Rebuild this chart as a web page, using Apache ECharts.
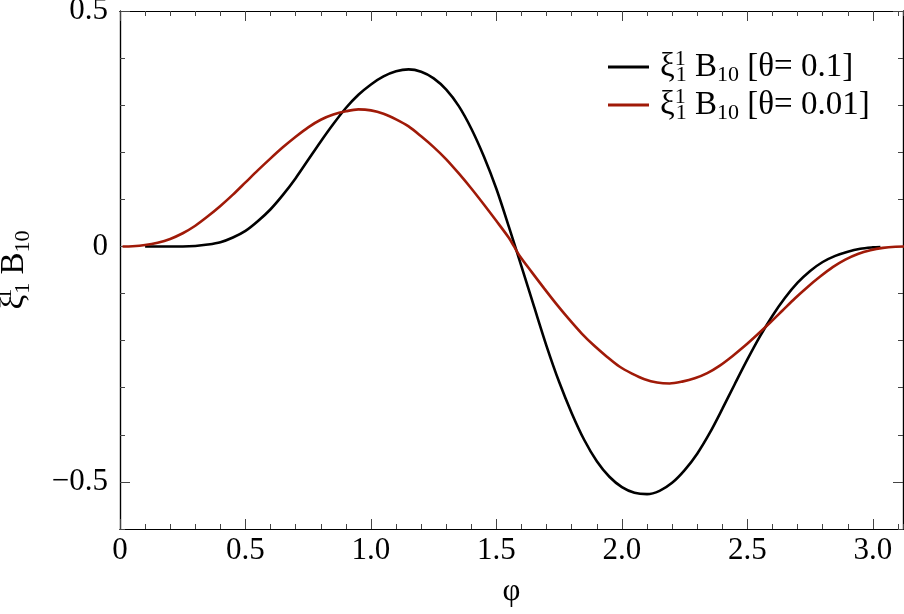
<!DOCTYPE html>
<html>
<head>
<meta charset="utf-8">
<script src="https://cdn.jsdelivr.net/npm/echarts@6/dist/echarts.min.js"></script>
<style>
  html, body { margin: 0; padding: 0; background: #fff; }
  #chart { width: 904px; height: 614px; }
</style>
</head>
<body>
<div id="chart"></div>
<script>
  // theta = 0.1 curve (black)
  const phiA = [0.10, 0.15, 0.20, 0.25, 0.30, 0.35, 0.40, 0.45, 0.50, 0.55, 0.60, 0.65, 0.70, 0.75, 0.80, 0.85,
    0.90, 0.95, 1.00, 1.05, 1.10, 1.15, 1.20, 1.25, 1.30, 1.35, 1.40, 1.45, 1.50, 1.55, 1.60, 1.65,
    1.70, 1.75, 1.80, 1.85, 1.90, 1.95, 2.00, 2.05, 2.10, 2.15, 2.20, 2.25, 2.30, 2.35, 2.40, 2.45,
    2.50, 2.55, 2.60, 2.65, 2.70, 2.75, 2.80, 2.85, 2.90, 2.95, 3.00, 3.03]
  const valA = [0, 0, 0, 0, 0.001, 0.004, 0.009, 0.019, 0.033, 0.054, 0.079, 0.110, 0.145, 0.184, 0.223, 0.260,
    0.294, 0.322, 0.344, 0.361, 0.372, 0.376, 0.371, 0.357, 0.333, 0.298, 0.250, 0.191, 0.122, 0.041, -0.043, -0.128,
    -0.212, -0.288, -0.354, -0.411, -0.456, -0.489, -0.511, -0.523, -0.526, -0.519, -0.502, -0.475, -0.440, -0.396, -0.345, -0.292,
    -0.240, -0.191, -0.147, -0.109, -0.077, -0.052, -0.033, -0.020, -0.011, -0.005, -0.002, -0.001]

  // theta = 0.01 curve (red)
  const phiB = [0.01, 0.05, 0.10, 0.15, 0.20, 0.25, 0.30, 0.35, 0.40, 0.45, 0.50, 0.55, 0.60, 0.65, 0.70, 0.75,
    0.80, 0.85, 0.90, 0.95, 1.00, 1.05, 1.10, 1.15, 1.20, 1.25, 1.30, 1.35, 1.40, 1.45, 1.50, 1.55,
    1.57, 1.59, 1.64, 1.69, 1.74, 1.79, 1.84, 1.89, 1.94, 1.99, 2.04, 2.09, 2.14, 2.19, 2.24, 2.29,
    2.34, 2.39, 2.44, 2.49, 2.54, 2.59, 2.64, 2.69, 2.74, 2.79, 2.84, 2.89, 2.94, 2.99, 3.04, 3.09, 3.13]
  const valB = [0, 0.0005, 0.003, 0.008, 0.016, 0.028, 0.044, 0.064, 0.086, 0.110, 0.136, 0.162, 0.187, 0.211, 0.233, 0.253,
    0.269, 0.280, 0.287, 0.291, 0.289, 0.282, 0.270, 0.255, 0.234, 0.211, 0.185, 0.155, 0.123, 0.089, 0.054, 0.018,
    0, -0.018, -0.054, -0.089, -0.123, -0.155, -0.185, -0.211, -0.234, -0.255, -0.270, -0.282, -0.289, -0.291, -0.287, -0.280,
    -0.269, -0.253, -0.233, -0.211, -0.187, -0.162, -0.136, -0.110, -0.086, -0.064, -0.044, -0.028, -0.016, -0.008, -0.003, -0.0005, 0]

  const seriesNames = ['θ= 0.1', 'θ= 0.01']
  const seriesColors = ['#000000', '#a01a08']

  // tick labels
  const xMajor = [0, 0.5, 1.0, 1.5, 2.0, 2.5, 3.0]
  const yMajor = [-0.5, 0, 0.5]
  const xMin = 0, xMax = 3.12
  const yMin = -0.6, yMax = 0.5

  const font = 'Liberation Serif'
  const mkRich = (big, small, lh) => ({
    t: { fontFamily: font, fontSize: big, color: '#000', lineHeight: lh },
    sup: { fontFamily: font, fontSize: small, color: '#000', verticalAlign: 'top', width: 1, lineHeight: lh },
    sub: { fontFamily: font, fontSize: small, color: '#000', verticalAlign: 'bottom', lineHeight: lh }
  })
  const legendRich = mkRich(33, 22, 38)
  const nameRich = mkRich(33, 22, 40)
  const tickRich = { a: { fontFamily: font, fontSize: 31, color: '#000', lineHeight: 32 } }
  const symLabel = '{t|ξ}{sup|1}{sub|1}{t| B}{sub|10}'

  const fmtX = v => '{a|' + (v === 0 ? '0' : v.toFixed(1)) + '}'
  const fmtY = v => '{a|' + (v === 0 ? '0' : (v < 0 ? '−' : '') + Math.abs(v).toFixed(1)) + '}'

  function xAx(pos, major, withLabel) {
    return {
      type: 'value', position: pos, min: xMin, max: xMax,
      interval: major ? 0.5 : 0.1,
      axisLine: { show: true, onZero: false, lineStyle: { color: '#000', width: 1.2 } },
      axisTick: major
        ? { show: true, inside: true, length: 10, customValues: xMajor, lineStyle: { color: '#444' } }
        : { show: true, inside: true, length: 5, lineStyle: { color: '#444' } },
      axisLabel: withLabel
        ? { show: true, customValues: xMajor, formatter: fmtX, rich: tickRich, margin: 6 }
        : { show: false },
      splitLine: { show: false },
      name: withLabel ? '{a|φ}' : '',
      nameLocation: 'middle', nameGap: 47,
      nameTextStyle: { rich: tickRich }
    }
  }
  function yAx(pos, major, withLabel) {
    return {
      type: 'value', position: pos, min: yMin, max: yMax,
      interval: 0.1,
      axisLine: { show: true, onZero: false, lineStyle: { color: '#000', width: 1.2 } },
      axisTick: major
        ? { show: true, inside: true, length: 10, customValues: yMajor, lineStyle: { color: '#444' } }
        : { show: true, inside: true, length: 5, lineStyle: { color: '#444' } },
      axisLabel: withLabel
        ? { show: true, customValues: yMajor, formatter: fmtY, rich: tickRich, margin: 12 }
        : { show: false },
      splitLine: { show: false },
      name: withLabel ? symLabel : '',
      nameLocation: 'middle', nameGap: 86, nameRotate: 90,
      nameTextStyle: { rich: nameRich }
    }
  }

  const chart = echarts.init(document.getElementById('chart'), null, { renderer: 'canvas' })
  chart.setOption({
    backgroundColor: '#fff',
    animation: false,
    grid: { left: 120, right: 1, top: 11, bottom: 85, containLabel: false, outerBoundsMode: 'none' },
    legend: {
      orient: 'vertical', left: 603, top: 43, itemGap: 0,
      itemWidth: 41, itemHeight: 3, icon: 'rect',
      data: seriesNames,
      formatter: name => symLabel + '{t| [' + name + ']}',
      textStyle: { rich: legendRich, padding: [0, 0, 0, 6] }
    },
    xAxis: [xAx('bottom', false, false), xAx('bottom', true, true), xAx('top', false, false), xAx('top', true, false)],
    yAxis: [yAx('left', false, false), yAx('left', true, true), yAx('right', false, false), yAx('right', true, false)],
    series: [
      {
        name: seriesNames[0], type: 'line', smooth: 0.3, showSymbol: false, symbol: 'none',
        xAxisIndex: 0, yAxisIndex: 0,
        lineStyle: { color: seriesColors[0], width: 2.6 }, itemStyle: { color: seriesColors[0] },
        data: phiA.map((p, i) => [p, valA[i]])
      },
      {
        name: seriesNames[1], type: 'line', smooth: 0.3, showSymbol: false, symbol: 'none',
        xAxisIndex: 0, yAxisIndex: 0,
        lineStyle: { color: seriesColors[1], width: 2.6 }, itemStyle: { color: seriesColors[1] },
        data: phiB.map((p, i) => [p, valB[i]])
      }
    ]
  })
</script>
</body>
</html>
